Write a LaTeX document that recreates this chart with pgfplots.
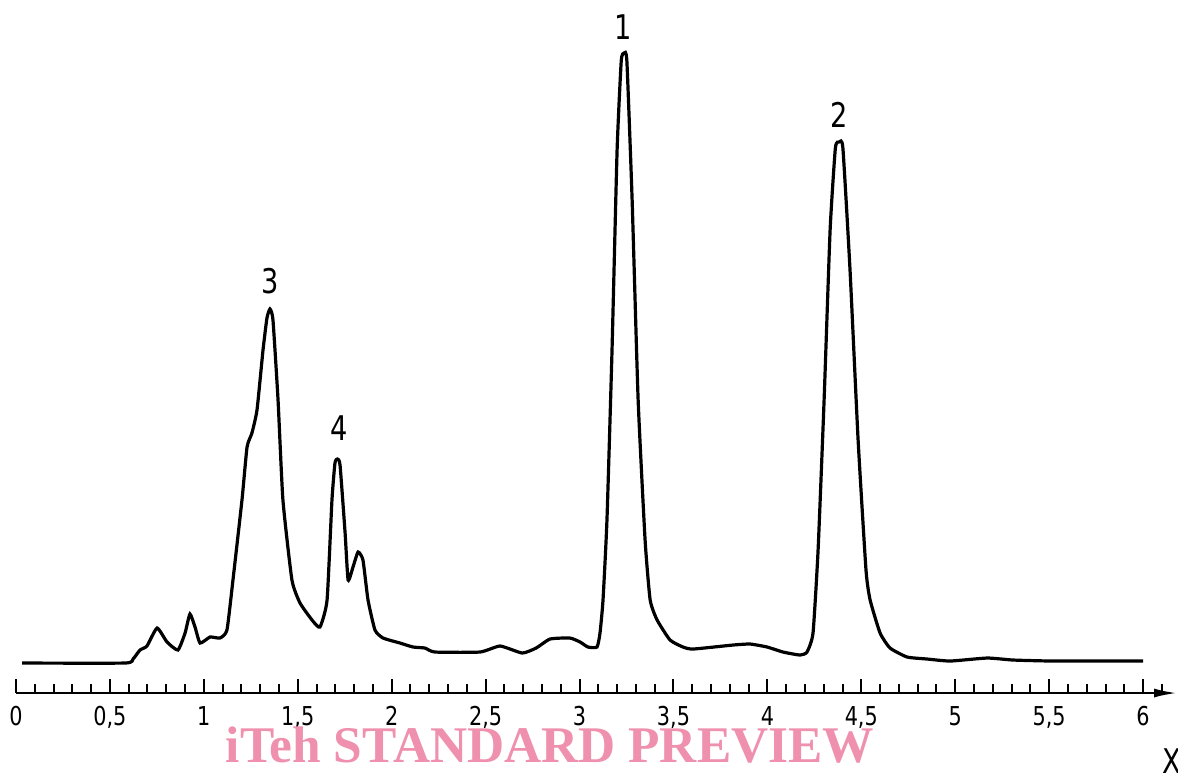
\documentclass[border=0pt]{standalone}
\usepackage{pgfplots}
\pgfplotsset{compat=1.18}
\usetikzlibrary{arrows.meta}
\usepackage{fontspec}
\setmainfont{DejaVu Sans}[FakeStretch=0.8]
\newfontfamily\wmfont{Liberation Serif}
\definecolor{wmpink}{RGB}{238,144,174}

\pgfplotstableread{
x y
0.032 30
0.580 30
0.623 34
0.660 43
0.697 47
0.751 65
0.804 51
0.862 43
0.900 60
0.926 79
0.953 66
0.980 50
1.033 56
1.086 55
1.123 63
1.155 113
1.203 193
1.230 246
1.256 260
1.283 283
1.315 343
1.336 375
1.352 384
1.368 373
1.395 293
1.421 193
1.469 113
1.512 90
1.576 73
1.618 66
1.656 93
1.682 193
1.698 230
1.711 234
1.725 228
1.752 160
1.768 113
1.794 126
1.821 141
1.847 133
1.874 93
1.911 63
1.954 55
2.044 50
2.114 46
2.177 45
2.230 41
2.470 41
2.577 47
2.695 40
2.769 45
2.843 54
2.949 55
3.003 51
3.045 46
3.093 46
3.109 60
3.125 93
3.146 173
3.173 343
3.200 543
3.222 632
3.237 640
3.252 632
3.280 493
3.312 293
3.349 153
3.376 93
3.413 73
3.482 53
3.551 46
3.605 44
3.817 48
3.908 49
3.999 46
4.083 41
4.174 38
4.211 41
4.243 60
4.270 143
4.302 293
4.334 463
4.362 545
4.382 551
4.402 545
4.440 423
4.483 253
4.525 123
4.547 93
4.600 60
4.653 45
4.744 36
4.851 34
4.973 32
5.170 35
5.308 33
5.521 32
6.000 32
}\chrom

\begin{document}
\begin{tikzpicture}
\begin{axis}[
  x=93.915pt, y=0.5pt,
  xmin=0, xmax=6.186, ymin=0, ymax=693,
  axis x line=bottom, axis y line=none,
  x axis line style={line width=1.4pt, -{Latex[length=12pt,width=4.5pt]}},
  xtick={0,0.5,...,6},
  minor xtick={0,0.1,...,6.05},
  tick align=inside,
  major tick length=7pt, minor tick length=4.3pt,
  every tick/.style={black, line width=1pt},
  xticklabel style={font=\fontsize{13}{14}\selectfont, yshift=-3pt},
  /pgf/number format/use comma,
  /pgf/number format/assume math mode=true,
  clip=false,
]
\addplot[black, line width=1.6pt, smooth, tension=0.3] table {\chrom};
\node[font=\fontsize{17}{18}\selectfont, anchor=base] at (axis cs:3.232,653) {1};
\node[font=\fontsize{17}{18}\selectfont, anchor=base] at (axis cs:4.384,565) {2};
\node[font=\fontsize{17}{18}\selectfont, anchor=base] at (axis cs:1.352,400) {3};
\node[font=\fontsize{17}{18}\selectfont, anchor=base] at (axis cs:1.720,253) {4};
\node[font=\fontsize{17}{18}\selectfont, anchor=base] at (axis cs:6.155,-80) {X};
\node[font=\wmfont\bfseries\fontsize{25.7}{27}\selectfont, text=wmpink, anchor=base] at (axis cs:2.843,-69) {iTeh STANDARD PREVIEW};
\coordinate (bl) at (axis cs:-0.0852,-81);
\coordinate (tr) at (axis cs:6.186,693);
\end{axis}
\pgfresetboundingbox
\path[use as bounding box] (bl) rectangle (tr);
\end{tikzpicture}
\end{document}
